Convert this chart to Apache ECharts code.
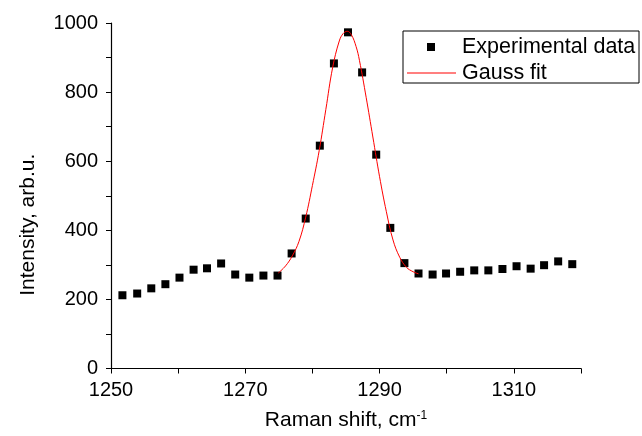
<!DOCTYPE html>
<html>
<head>
<meta charset="utf-8">
<script src="https://cdn.jsdelivr.net/npm/echarts@6/dist/echarts.min.js"></script>
<style>
html,body{margin:0;padding:0;background:#fff;}
#chart{width:642px;height:436px;}
</style>
</head>
<body>
<div id="chart"></div>
<script>
// Experimental data (Raman shift, intensity)
const expShift = [1251.7,1253.9,1256.0,1258.1,1260.2,1262.3,1264.3,1266.4,1268.5,1270.6,1272.7,1274.8,1276.9,1279.0,1281.1,1283.2,1285.3,1287.4,1289.5,1291.6,1293.7,1295.8,1297.9,1299.9,1302.0,1304.1,1306.2,1308.3,1310.4,1312.5,1314.5,1316.6,1318.7];
const expIntensity = [212,217,232,244,263,286,290,304,272,263,269,269,333,434,645,883,973,857,619,407,305,275,272,275,280,284,284,288,296,289,299,310,302];
// Gauss fit curve
const fitShift = [1274.9,1276.0,1277.0,1278.0,1279.0,1280.0,1281.0,1282.0,1283.0,1284.0,1284.6,1285.2,1285.8,1286.5,1287.0,1288.0,1289.0,1290.0,1291.0,1292.0,1293.0,1294.0,1295.0,1295.8];
const fitIntensity = [276,297,326,368,438,530,630,750,870,948,970,976,966,932,892,785,670,555,455,372,322,293,280,274];

const legendNames = ['Experimental data','Gauss fit'];
const xName = 'Raman shift, cm';
const yName = 'Intensity, arb.u.';

const font = 'Liberation Sans, Arial, sans-serif';
const chart = echarts.init(document.getElementById('chart'), null, {renderer:'canvas'});

chart.setOption({
  backgroundColor:'#fff',
  animation:false,
  grid:{left:111, right:61, top:23, bottom:67},
  legend:[
    {data:[legendNames[0]], left:427, top:36, itemWidth:8, itemHeight:8, padding:0,
     textStyle:{fontFamily:font, fontSize:21.5, color:'#000', padding:[0,0,0,22]}},
    {data:[{name:legendNames[1], icon:'rect'}], left:407, top:62, itemWidth:49, itemHeight:1, padding:0,
     itemStyle:{color:'#ff0000'},
     textStyle:{fontFamily:font, fontSize:21.5, color:'#000', padding:[0,0,0,1]}}
  ],
  graphic:[{type:'rect', shape:{x:403, y:31, width:236, height:52}, style:{fill:'none', stroke:'#000', lineWidth:1}, z:100}],
  xAxis:{
    type:'value', min:1250, max:1320, interval:10,
    name: xName + '{sup|-1}', nameLocation:'middle', nameGap:41,
    nameTextStyle:{fontFamily:font, fontSize:21, color:'#000',
      rich:{sup:{fontFamily:font, fontSize:12, color:'#000', verticalAlign:'top', padding:[0,0,10,0]}}},
    axisLine:{show:true, onZero:false, lineStyle:{color:'#000', width:1.2}},
    axisTick:{show:true, inside:false, length:5, lineStyle:{color:'#000'}},
    axisLabel:{fontFamily:font, fontSize:20, color:'#000', margin:12,
      formatter:function(v){return ((v-1250)%20===0)? String(v) : '';}},
    splitLine:{show:false}
  },
  yAxis:{
    type:'value', min:0, max:1000, interval:100,
    name: yName, nameLocation:'middle', nameGap:72, nameRotate:90,
    nameTextStyle:{fontFamily:font, fontSize:21, color:'#000', padding:[0,58,0,0]},
    axisLine:{show:true, onZero:false, lineStyle:{color:'#000', width:1.2}},
    axisTick:{show:true, inside:false, length:5, lineStyle:{color:'#000'}},
    axisLabel:{fontFamily:font, fontSize:20, color:'#000', margin:13,
      formatter:function(v){return (v%200===0)? String(v) : '';}},
    splitLine:{show:false}
  },
  series:[
    {name:legendNames[0], type:'scatter', symbol:'rect', symbolSize:8,
     itemStyle:{color:'#000', opacity:1}, z:2,
     data: expShift.map((x,i)=>[x, expIntensity[i]])},
    {name:legendNames[1], type:'line', smooth:0.4, showSymbol:false, symbol:'none',
     lineStyle:{color:'#ff0000', width:1}, itemStyle:{color:'#ff0000'}, z:3,
     data: fitShift.map((x,i)=>[x, fitIntensity[i]])}
  ]
});
</script>
</body>
</html>
